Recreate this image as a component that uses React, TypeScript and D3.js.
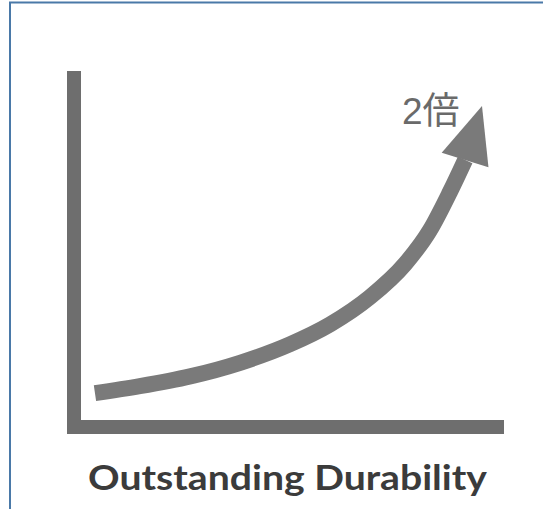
import React from 'react';
import * as d3 from 'd3';

// durability curve (0..100 on both axes)
const curveX = [3.3, 13.9, 25.8, 37.6, 49.4, 58.9, 68.3, 76.6, 82.5, 87.2, 90.8];
const curveY = [7.7, 9.7, 12.5, 16.4, 21.7, 27.4, 35.2, 44.7, 54.4, 65.3, 74.5];
// arrow tip
const tipX = [94.8];
const tipY = [90.0];

const label = '2倍';
const title = 'Outstanding Durability';

const W = 546;
const H = 509;

const App = () => {
    const xScale = d3.scaleLinear().domain([0, 100]).range([81, 504]);
    const yScale = d3.scaleLinear().domain([0, 100]).range([420, 71]);
    const axisW = 14;

    const pts: [number, number][] = curveX.map((x, i) => [xScale(x), yScale(curveY[i])]);
    const line = d3.line<[number, number]>()
        .x(d => d[0])
        .y(d => d[1])
        .curve(d3.curveMonotoneX);

    // arrow head from last curve point to tip
    const base = pts[pts.length - 1];
    const tip: [number, number] = [xScale(tipX[0]), yScale(tipY[0])];
    const dx = tip[0] - base[0];
    const dy = tip[1] - base[1];
    const len = Math.sqrt(dx * dx + dy * dy);
    const nx = -dy / len;
    const ny = dx / len;
    const half = 24.5;
    const head = [
        [base[0] + nx * half, base[1] + ny * half],
        tip,
        [base[0] - nx * half, base[1] - ny * half],
    ];

    return (
        <svg width={W} height={H} style={{ position: 'absolute', left: 0, top: 0 }}>
            <rect x={0} y={0} width={W} height={H} fill="#fff" />
            {/* frame */}
            <line x1={9} y1={2.5} x2={543} y2={2.5} stroke="#4a79a8" strokeWidth={2} />
            <line x1={10} y1={2} x2={10} y2={H} stroke="#4a79a8" strokeWidth={2} />

            {/* axes */}
            <rect x={xScale(0) - axisW} y={yScale(100)} width={axisW} height={yScale(0) + axisW - yScale(100)} fill="#6e6e6e" />
            <rect x={xScale(0) - axisW} y={yScale(0)} width={xScale(100) - xScale(0) + axisW} height={axisW} fill="#6e6e6e" />

            {/* curve + arrow */}
            <path d={line(pts) || ''} fill="none" stroke="#7a7a7a" strokeWidth={16} />
            <polygon points={head.map(p => p.join(',')).join(' ')} fill="#7a7a7a" />

            <text x={402} y={124} fontFamily="'Liberation Sans', 'Noto Sans CJK JP', sans-serif" fontSize={37} fill="#6a6a6a">
                {label}
            </text>

            <text x={287.5} y={490} textAnchor="middle" fontFamily="Lato, sans-serif" fontWeight="bold" fontSize={35}
                  fill="#3b3b3b" textLength={399} lengthAdjust="spacingAndGlyphs">
                {title}
            </text>
        </svg>
    );
};

export default App;
